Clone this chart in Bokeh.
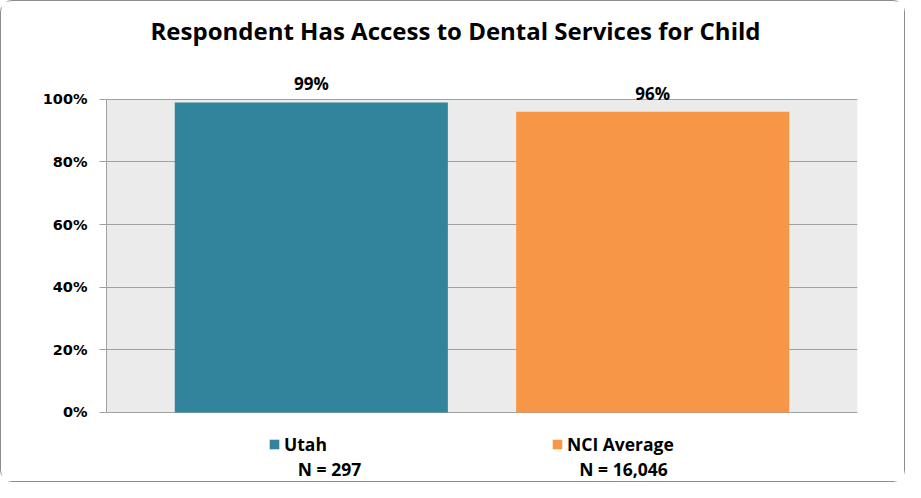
from bokeh.plotting import figure
from bokeh.models import (ColumnDataSource, FactorRange, Range1d, FixedTicker, Label,
                          LabelSet, Legend, LegendItem, BoxAnnotation)
from bokeh.core.properties import value
from bokeh.embed import file_html
from bokeh.resources import INLINE

# ---- data ----
categories = ["Utah", "NCI Average"]
values = [0.99, 0.96]
value_labels = ["99%", "96%"]
n_labels = ["N = 297", "N = 16,046"]
bar_colors = ["#31849B", "#F79646"]
y_ticks = [0, 0.2, 0.4, 0.6, 0.8, 1.0]
y_tick_labels = ["0%", "20%", "40%", "60%", "80%", "100%"]
title_text = "Respondent Has Access to Dental Services for Child"

source = ColumnDataSource(dict(cat=categories, val=values, lab=value_labels, color=bar_colors))

W, H = 905, 482
# frame covers the full height; value axis drawn only between 0 and 1
p = figure(width=W, height=H, output_backend="svg", toolbar_location=None,
           x_range=FactorRange(factors=categories, range_padding=0.1, range_padding_units="absolute"),
           y_range=Range1d(-0.2271, 1.3124),
           min_border_left=105, min_border_right=49, min_border_top=0, min_border_bottom=0)

p.styles = {"border": "1.5px solid #8c8c8c", "border-radius": "12px", "box-sizing": "border-box"}
p.border_fill_color = "white"
p.background_fill_color = "white"
p.outline_line_color = None

# grey plot area between 0 and 1
p.add_layout(BoxAnnotation(bottom=0, top=1, fill_color="#EBEBEB", fill_alpha=1,
                           line_color=None, level="image"))

bars = p.vbar(x="cat", top="val", width=0.8, source=source, fill_color="color", line_color=None)

# axes
p.yaxis.ticker = FixedTicker(ticks=y_ticks)
p.yaxis.bounds = (0, 1)
p.yaxis.major_label_overrides = {t: l for t, l in zip(y_ticks, y_tick_labels)}
p.yaxis.major_label_text_font = "DejaVu Sans"
p.yaxis.major_label_text_font_style = "bold"
p.yaxis.major_label_text_font_size = "14.5px"
p.yaxis.major_label_text_color = "#000000"
p.yaxis.major_label_standoff = 12
p.yaxis.axis_line_color = "#A0A0A0"
p.yaxis.major_tick_line_color = "#A0A0A0"
p.yaxis.major_tick_out = 7
p.yaxis.major_tick_in = 0
p.yaxis.minor_tick_line_color = None

p.xaxis.visible = False

p.xgrid.grid_line_color = None
p.ygrid.grid_line_color = "#A0A0A0"
p.ygrid.ticker = FixedTicker(ticks=y_ticks)

# value labels
p.add_layout(LabelSet(x="cat", y="val", text="lab", source=source, y_offset=7,
                      text_align="center", text_baseline="bottom",
                      text_font=value("Open Sans"), text_font_style="bold", text_font_size="17px",
                      text_color="#000000"))

# title
p.add_layout(Label(x=349, y=453, x_units="screen", y_units="screen", text=title_text,
                   text_align="center", text_baseline="middle", text_font="Open Sans",
                   text_font_style="bold", text_font_size="24px", text_color="#000000"))

# legends (one per series) below the plot area
leg_x = [162, 445]
for i, cat in enumerate(categories):
    lg = Legend(items=[LegendItem(label=cat, renderers=[bars], index=i)],
                location=(leg_x[i], 27), orientation="horizontal",
                glyph_width=12, glyph_height=12, label_standoff=4, padding=0, margin=0,
                border_line_color=None, background_fill_alpha=0,
                label_text_font="Open Sans", label_text_font_style="bold",
                label_text_font_size="17.5px", label_text_color="#000000")
    p.add_layout(lg, "center")

n_x = [223, 517]
for i, t in enumerate(n_labels):
    p.add_layout(Label(x=n_x[i], y=15, x_units="screen", y_units="screen", text=t,
                       text_align="center", text_baseline="middle", text_font="Open Sans",
                       text_font_style="bold", text_font_size="17.5px", text_color="#000000"))

open("out.html", "w").write(file_html(p, INLINE))
